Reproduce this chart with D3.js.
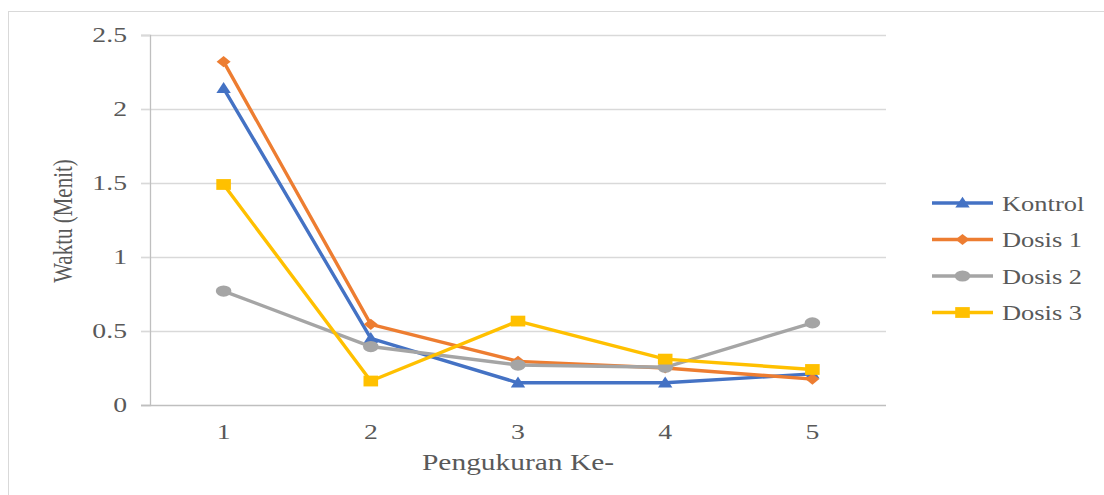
<!DOCTYPE html>
<html><head><meta charset="utf-8">
<script src="https://cdn.jsdelivr.net/npm/d3@7"></script>
<style>body{margin:0;background:#fff}svg{display:block}text{font-family:"Liberation Serif","DejaVu Serif",serif}</style>
</head><body>
<script>
const categories = ["1","2","3","4","5"];
const yTicks = [0,0.5,1,1.5,2,2.5];
const kontrol = [2.14,0.45,0.15,0.15,0.21];
const dosis1 = [2.32,0.545,0.295,0.25,0.175];
const dosis2 = [0.77,0.395,0.27,0.255,0.555];
const dosis3 = [1.49,0.162,0.567,0.31,0.24];
const seriesNames = ["Kontrol","Dosis 1","Dosis 2","Dosis 3"];
const seriesValues = [kontrol,dosis1,dosis2,dosis3];
const colors = ["#4472C4","#ED7D31","#A5A5A5","#FFC000"];
const markerTypes = ["triangle","diamond","circle","square"];

(function(){
const W=1104,H=495;
const SX=1.32; // horizontal glyph stretch seen in the reference
const svg=d3.select("body").append("svg").attr("width",W).attr("height",H);
svg.append("rect").attr("x",8.5).attr("y",11.5).attr("width",W).attr("height",H).attr("fill","none").attr("stroke","#d9d9d9");

const pLeft=150,pRight=886,pTop=35,pBottom=405;
const x=d3.scaleBand().domain(categories).range([pLeft,pRight]);
const y=d3.scaleLinear().domain([0,2.5]).range([pBottom,pTop]);
const txt="#595959";

function stretch(sel,sx){
  sel.each(function(){
    const t=d3.select(this);
    const xv=+t.attr("x")||0, yv=+t.attr("y")||0;
    t.attr("x",0).attr("y",0).attr("transform",`translate(${xv},${yv}) scale(${sx},1)`);
  });
}

svg.append("g").selectAll("line").data(yTicks.filter(d=>d>0)).join("line")
 .attr("x1",141).attr("x2",pRight).attr("y1",d=>y(d)+0.5).attr("y2",d=>y(d)+0.5)
 .attr("stroke","#d9d9d9").attr("stroke-width",1.3);
const ya=svg.append("g").attr("transform",`translate(${pLeft},0)`)
 .call(d3.axisLeft(y).tickValues(yTicks).tickSize(9).tickPadding(14).tickFormat(d=>String(d)));
ya.attr("font-family",null);
ya.select(".domain").attr("stroke","#bfbfbf").attr("stroke-width",1.3);
ya.selectAll(".tick line").attr("stroke","#d9d9d9").attr("stroke-width",1.3);
ya.selectAll("text").attr("font-size",21).attr("fill",txt);
stretch(ya.selectAll("text"),SX);
const xa=svg.append("g").attr("transform",`translate(0,${pBottom})`)
 .call(d3.axisBottom(x).tickSize(0).tickPadding(19));
xa.attr("font-family",null);
xa.select(".domain").attr("stroke","#bfbfbf").attr("stroke-width",1.3).attr("d",`M141,0.5H${pRight}`);
xa.selectAll("text").attr("font-size",21).attr("fill",txt);
stretch(xa.selectAll("text"),SX);

svg.append("text").attr("transform","translate(72,221) rotate(-90) scale(1,1.3)").attr("text-anchor","middle")
 .attr("font-size",21).attr("fill",txt).text("Waktu (Menit)");
const xt=svg.append("text").attr("x",(pLeft+pRight)/2).attr("y",470).attr("text-anchor","middle")
 .attr("font-size",23).attr("fill",txt).text("Pengukuran Ke-");
stretch(xt,1.28);

function markerPath(type){
  switch(type){
    case "triangle": return "M0,-6.3L7.2,4.6L-7.2,4.6Z";
    case "diamond": return "M0,-5.6L7,0L0,5.6L-7,0Z";
    case "circle": return "M-7.8,0A7.8,5.6 0 1,0 7.8,0A7.8,5.6 0 1,0 -7.8,0Z";
    default: return "M-7.3,-5.4H7.3V5.4H-7.3Z";
  }
}

const cx=c=>x(c)+x.bandwidth()/2;
const line=d3.line().x((d,i)=>cx(categories[i])).y(d=>y(d));
seriesValues.forEach((vals,si)=>{
  const g=svg.append("g");
  g.append("path").attr("d",line(vals)).attr("fill","none").attr("stroke",colors[si])
   .attr("stroke-width",3.4).attr("stroke-linejoin","round");
  g.selectAll("path.m").data(vals).join("path").attr("class","m")
   .attr("d",markerPath(markerTypes[si]))
   .attr("transform",(d,i)=>`translate(${cx(categories[i])},${y(d)})`)
   .attr("fill",colors[si]);
});

const lg=svg.append("g");
seriesNames.forEach((n,i)=>{
  const yy=203+i*36.5;
  lg.append("line").attr("x1",932).attr("x2",993).attr("y1",yy).attr("y2",yy)
   .attr("stroke",colors[i]).attr("stroke-width",3.4);
  lg.append("path").attr("d",markerPath(markerTypes[i]))
   .attr("transform",`translate(962.5,${yy})`).attr("fill",colors[i]);
  const t=lg.append("text").attr("x",1002).attr("y",yy+7.5).attr("font-size",21)
   .attr("fill",txt).text(n);
  stretch(t,1.26);
});
})();
</script>
</body></html>
